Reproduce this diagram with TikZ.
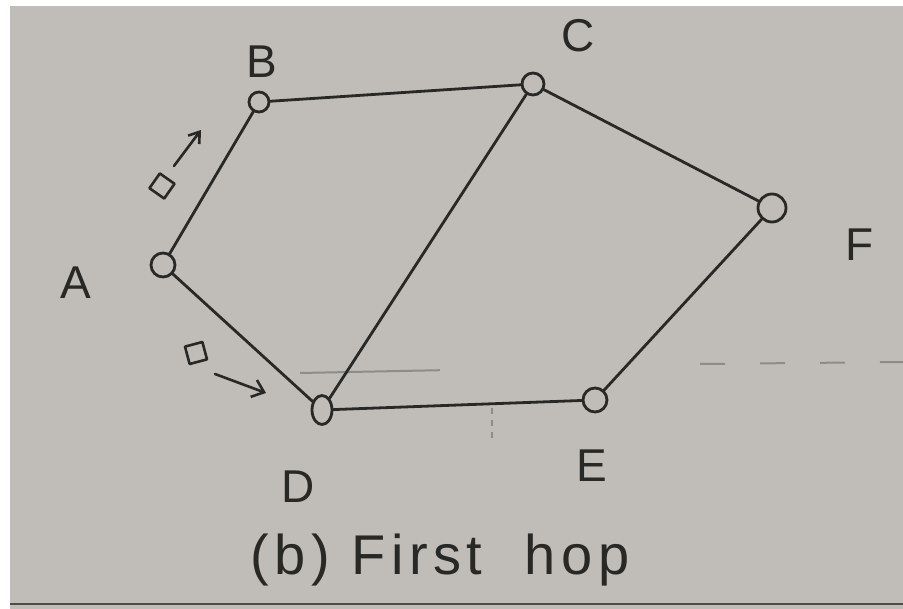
\documentclass[tikz,border=0pt]{standalone}
\usepackage{fontspec}
\setmainfont{Liberation Sans}
\usetikzlibrary{arrows.meta,shapes.geometric}
\definecolor{paper}{RGB}{192,189,184}
\definecolor{ink}{RGB}{40,40,38}
\begin{document}
\begin{tikzpicture}[x=1pt,y=-1pt,
  pen/.style={draw=ink, line width=2.8pt, line cap=round, line join=round},
  nodecirc/.style={pen, circle, inner sep=0pt},
  lbl/.style={text=ink, font=\fontsize{46}{52}\selectfont},
  pkt/.style={pen, line width=2.6pt, minimum size=18pt, inner sep=0pt},
  faint/.style={draw=black!45, line width=2pt}]
\useasboundingbox (0,0) rectangle (903,609);
\fill[white] (0,0) rectangle (903,609);
\fill[paper] (10,6) rectangle (903,609);
\draw[black!70, line width=2.5pt] (10,604) -- (903,604);
% faint show-through marks
\draw[faint, dash pattern=on 140pt off 30pt] (300,373) -- (450,370);
\draw[faint, dash pattern=on 25pt off 35pt] (700,364) -- (903,362);
\draw[faint, line width=2.5pt, dash pattern=on 6pt off 6pt] (492,408) -- (492,440);
% nodes
\node[nodecirc, minimum size=24pt] (A) at (163,265) {};
\node[nodecirc, minimum size=20pt] (B) at (259,102) {};
\node[nodecirc, minimum size=22pt] (C) at (533,84) {};
\node[nodecirc, minimum size=28pt] (F) at (772,208) {};
\node[nodecirc, minimum size=24pt] (E) at (595,400) {};
\node[pen, ellipse, minimum width=20pt, minimum height=29pt, inner sep=0pt] (D) at (322,410) {};
% labels
\node[lbl] (lA) at (76,283) {A};
\node[lbl] (lB) at (262,62) {B};
\node[lbl] (lC) at (578,36) {C};
\node[lbl] (lF) at (860,245) {F};
\node[lbl] (lE) at (592,466) {E};
\node[lbl] (lD) at (298,487) {D};
% edges
\draw[pen] (A) -- (B);
\draw[pen] (B) -- (C);
\draw[pen] (C) -- (F);
\draw[pen] (F) -- (E);
\draw[pen] (E) -- (D);
\draw[pen] (D) -- (A);
\draw[pen] (C) -- (D);
% packets
\node[pkt, rotate=-35] (p1) at (162,186) {};
\coordinate (p1s) at (174,166);
\coordinate (p1t) at (201,130);
\draw[pen, line width=2.6pt, -{Straight Barb[length=10pt,width=14pt]}] (p1s) -- (p1t);
\node[pkt, rotate=15] (p2) at (196,353) {};
\coordinate (p2s) at (215,374);
\coordinate (p2t) at (266,393);
\draw[pen, line width=2.6pt, -{Straight Barb[length=11pt,width=18pt]}] (p2s) -- (p2t);
% caption
\node[text=ink, font=\fontsize{56}{64}\selectfont\addfontfeature{LetterSpace=10}] (cap) at (440,560) {(b) First\ \ hop};
\end{tikzpicture}
\end{document}
